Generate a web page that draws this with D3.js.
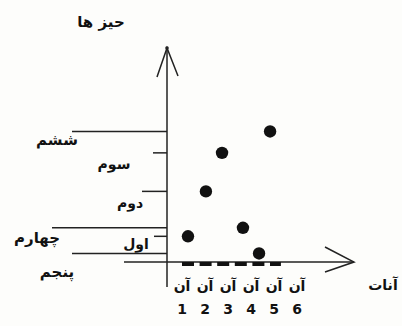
<!DOCTYPE html>
<html lang="fa">
<head>
    <meta charset="UTF-8">
    <title>d3.</title>
    <script src="https://cdn.jsdelivr.net/npm/d3@7"></script>
    <style>
        body { margin: 0; background: #fdfdfb; }
        .guide { stroke: #222; stroke-width: 1.5; }
        .lbl { font-family: "DejaVu Sans", sans-serif; font-weight: bold; fill: #111; text-anchor: middle; }
    </style>
</head>
<body>
<script>
	var width = 402, height = 326;
	// 数据
	var states = ["پنجم", "اول", "چهارم", "دوم", "سوم", "ششم"];
	var stateLevels = [0.4, 1.2, 1.6, 3.3, 5.1, 6.1];
	var pointTimes = [4.35, 1.26, 3.65, 2.04, 2.74, 4.83];
	var timeTicks = [1, 2, 3, 4, 5, 6];
	var timeLabels = ["1", "2", "3", "4", "5", "6"];
	var tickWord = "آن";
	var yTitle = "حیز ها";
	var xTitle = "آنات";

	// 每条横线的样式: 起点和文字偏移
	var guideStyle = {
		"ششم":  {x0: 72,  tx: 57,  dy: 9,  size: 15},
		"سوم":  {x0: 153, tx: 114, dy: 12, size: 14},
		"دوم":  {x0: 142, tx: 130, dy: 13, size: 14},
		"چهارم": {x0: 52,  tx: 37,  dy: 11, size: 15},
		"اول":  {x0: 154, tx: 136, dy: 9,  size: 14},
		"پنجم": {x0: 72,  tx: 57,  dy: 19, size: 15}
	};

	var svg = d3.select("body")
		.append("svg")
		.attr("width", width)
		.attr("height", height);

	var yScale = d3.scaleLinear().domain([0, 10]).range([262, 48]);
	var xScale = d3.scaleLinear().domain([1, 6]).range([182, 297]);
	var axisX = 167;

	// y 轴 + 箭头
	svg.append("line").attr("class", "guide")
		.attr("x1", axisX).attr("x2", axisX)
		.attr("y1", yScale(10)).attr("y2", 287);
	svg.append("path").attr("class", "guide").attr("fill", "none")
		.attr("stroke-width", 1.2)
		.attr("d", "M157,77L" + axisX + "," + yScale(10) + "L178,76");
	svg.append("circle").attr("cx", axisX).attr("cy", yScale(10)).attr("r", 1.8).attr("fill", "#222");

	// x 轴 + 箭头
	svg.append("line").attr("class", "guide")
		.attr("x1", 124).attr("x2", 354)
		.attr("y1", yScale(0)).attr("y2", yScale(0));
	svg.append("path").attr("class", "guide").attr("fill", "none")
		.attr("stroke-width", 1.2)
		.attr("d", "M325,247L354," + yScale(0) + "L325,272");

	// 虚线段
	svg.append("line")
		.attr("x1", xScale(1)).attr("x2", xScale(5.3))
		.attr("y1", yScale(0) + 2).attr("y2", yScale(0) + 2)
		.attr("stroke", "#111").attr("stroke-width", 4)
		.attr("stroke-dasharray", "12,5.6");

	// 各个状态的横线和文字
	var rows = states.map(function (s, i) {
		return {name: s, level: stateLevels[i], t: pointTimes[i]};
	});
	svg.selectAll(".stateLine")
		.data(rows)
		.enter()
		.append("line")
		.attr("class", "guide stateLine")
		.attr("x1", function (d) { return guideStyle[d.name].x0; })
		.attr("x2", axisX)
		.attr("y1", function (d) { return yScale(d.level); })
		.attr("y2", function (d) { return yScale(d.level); });
	svg.selectAll(".stateText")
		.data(rows)
		.enter()
		.append("text")
		.attr("class", "lbl stateText")
		.attr("x", function (d) { return guideStyle[d.name].tx; })
		.attr("y", function (d) { return yScale(d.level) + guideStyle[d.name].dy; })
		.attr("font-size", function (d) { return guideStyle[d.name].size; })
		.attr("dominant-baseline", "middle")
		.text(function (d) { return d.name; });

	// 点
	svg.selectAll(".pt")
		.data(rows)
		.enter()
		.append("circle")
		.attr("class", "pt")
		.attr("cx", function (d) { return xScale(d.t); })
		.attr("cy", function (d) { return yScale(d.level); })
		.attr("r", 6.2)
		.attr("fill", "#111");

	// x 刻度文字
	svg.selectAll(".tw")
		.data(timeTicks)
		.enter()
		.append("text")
		.attr("class", "lbl tw")
		.attr("x", function (d) { return xScale(d); })
		.attr("y", 287)
		.attr("font-size", 14)
		.attr("dominant-baseline", "middle")
		.text(tickWord);
	svg.selectAll(".tn")
		.data(timeTicks)
		.enter()
		.append("text")
		.attr("class", "lbl tn")
		.attr("x", function (d) { return xScale(d); })
		.attr("y", 310)
		.attr("font-size", 14)
		.attr("font-weight", "normal")
		.attr("dominant-baseline", "middle")
		.text(function (d, i) { return timeLabels[i]; });

	// 标题
	svg.append("text").attr("class", "lbl")
		.attr("x", 101).attr("y", 22).attr("font-size", 15)
		.attr("dominant-baseline", "middle")
		.text(yTitle);
	svg.append("text").attr("class", "lbl")
		.attr("x", 383).attr("y", 286).attr("font-size", 14)
		.attr("dominant-baseline", "middle")
		.text(xTitle);
</script>
</body>
</html>
